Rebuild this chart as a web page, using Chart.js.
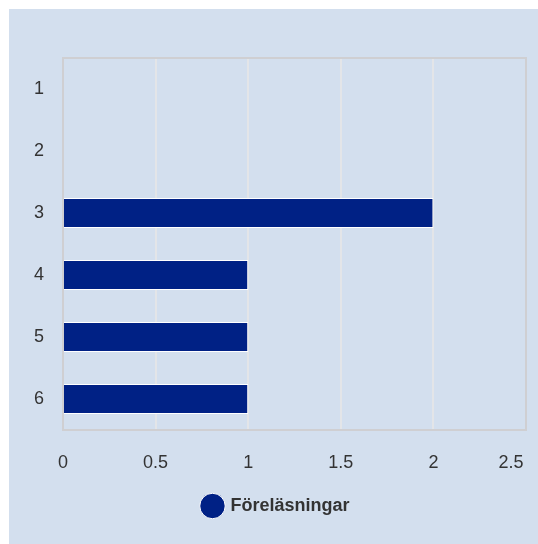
<!DOCTYPE html>
<html>
<head>
<meta charset="utf-8">
<script src="https://cdn.jsdelivr.net/npm/chart.js@4/dist/chart.umd.min.js"></script>
<style>
  body { margin: 0; background: #ffffff; }
  #wrap { position: absolute; left: 9px; top: 9px; width: 529px; height: 535px; background: #d3dfee; }
</style>
</head>
<body>
<div id="wrap"><canvas id="lectureChart" width="529" height="535"></canvas></div>
<script>
var categories = ["1", "2", "3", "4", "5", "6"];
var lectureValues = [0, 0, 2, 1, 1, 1];
var xTicks = [0, 0.5, 1, 1.5, 2, 2.5];
var seriesLabel = "Föreläsningar";

// frame round the plot area
var plotFrame = {
     id: 'plotFrame',
     afterDraw: function(chart) {
          var a = chart.chartArea, ctx = chart.ctx;
          ctx.save();
          ctx.strokeStyle = '#cfcfd2';
          ctx.lineWidth = 2;
          ctx.strokeRect(a.left, a.top, a.right - a.left, a.bottom - a.top);
          ctx.restore();
     }
};

new Chart(document.getElementById('lectureChart'), {
     type: 'bar',
     data: {
          labels: categories,
          datasets: [
               {
                    label: seriesLabel,
                    data: lectureValues,
                    backgroundColor: '#002185',
                    borderColor: '#ffffff',
                    borderWidth: 1,
                    barPercentage: 0.48,
                    categoryPercentage: 1
               }
          ]
     },
     options: {
          indexAxis: 'y',
          responsive: false,
          animation: false,
          layout: { padding: { left: 18, right: 12, top: 49, bottom: 19 } },
          plugins: {
               legend: {
                    position: 'bottom',
                    labels: {
                         usePointStyle: true,
                         pointStyle: 'circle',
                         boxWidth: 18,
                         boxHeight: 18,
                         padding: 10,
                         color: '#333333',
                         font: { family: 'Liberation Sans', size: 18, weight: 'bold' }
                    }
               },
               tooltip: { enabled: false }
          },
          scales: {
               x: {
                    min: 0,
                    max: 2.5,
                    afterBuildTicks: function(axis) {
                         axis.ticks = xTicks.map(function(v) { return { value: v }; });
                    },
                    afterFit: function(axis) {
                         axis.height = 57;
                         axis.paddingLeft = 0;
                         axis.paddingRight = 0;
                    },
                    grid: { color: '#e3e5e8', lineWidth: 2, drawTicks: false },
                    border: { display: false },
                    ticks: {
                         padding: 22,
                         color: '#333333',
                         font: { family: 'Liberation Sans', size: 18 },
                         callback: function(v, i, ticks) {
                              // last label sits inside the frame, like the original
                              return i === ticks.length - 1 ? String(v) + '\u00a0\u00a0\u00a0\u00a0\u00a0\u00a0' : String(v);
                         }
                    }
               },
               y: {
                    afterFit: function(axis) { axis.width = 36; },
                    grid: { display: false, drawTicks: false },
                    border: { display: false },
                    ticks: {
                         padding: 19,
                         color: '#333333',
                         font: { family: 'Liberation Sans', size: 18 }
                    }
               }
          }
     },
     plugins: [plotFrame]
});
</script>
</body>
</html>
